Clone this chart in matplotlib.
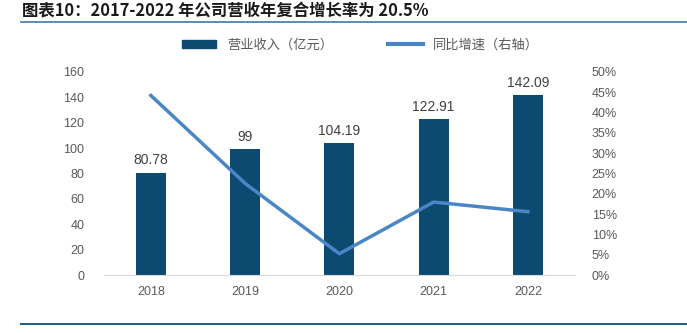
import matplotlib.pyplot as plt
from matplotlib.lines import Line2D
from matplotlib.patches import Patch

plt.rcParams['font.family'] = ['Liberation Sans', 'Noto Sans CJK SC', 'DejaVu Sans']

years = ['2018', '2019', '2020', '2021', '2022']
revenue = [80.78, 99, 104.19, 122.91, 142.09]
growth = [44.2, 22.56, 5.24, 17.97, 15.6]
rev_labels = ['80.78', '99', '104.19', '122.91', '142.09']

bar_color = '#0d4a70'
line_color = '#4a86c6'
tick_color = '#595959'

fig = plt.figure(figsize=(6.87, 3.33), dpi=100)

# title and rules
fig.text(0.032, 0.968, '图表10：2017-2022 年公司营收年复合增长率为 20.5%',
         fontsize=11.8, fontweight='bold', style='italic', color='#1a1a1a',
         family=['Noto Sans CJK SC', 'DejaVu Sans'], va='center')
fig.add_artist(Line2D([0.03, 1.0], [0.935, 0.935], color='#3f79a8', lw=1.2))
fig.add_artist(Line2D([0.03, 1.0], [0.027, 0.027], color='#1f5a85', lw=1.4))

ax = fig.add_axes([0.151, 0.174, 0.686, 0.61])
x = range(len(years))
ax.bar(x, revenue, width=0.32, color=bar_color, zorder=2)
for i, v in enumerate(revenue):
    ax.text(i, v + 4, rev_labels[i], ha='center', va='bottom', fontsize=10, color='#404040')
ax.set_xlim(-0.5, 4.5)
ax.set_ylim(0, 160)
ax.set_yticks(range(0, 161, 20))
ax.set_xticks(list(x))
ax.set_xticklabels(years)
for s in ['top', 'right', 'left']:
    ax.spines[s].set_visible(False)
ax.spines['bottom'].set_color('#d9d9d9')
ax.tick_params(axis='both', length=0, labelsize=9, colors=tick_color, pad=8)
ax.tick_params(axis='y', pad=14)

ax2 = ax.twinx()
ax2.plot(x, growth, color=line_color, lw=2.5, zorder=3)
ax2.set_ylim(0, 50)
ax2.set_yticks(range(0, 51, 5))
ax2.set_yticklabels([f'{t}%' for t in range(0, 51, 5)])
for s in ax2.spines.values():
    s.set_visible(False)
ax2.tick_params(axis='y', length=0, labelsize=9, colors=tick_color, pad=12)

handles = [Patch(color=bar_color), Line2D([0], [0], color=line_color, lw=3)]
fig.legend(handles, ['营业收入（亿元）', '同比增速（右轴）'],
           loc='center', bbox_to_anchor=(0.525, 0.865), ncol=2, frameon=False,
           handlelength=2.6, handleheight=0.55, columnspacing=4.2,
           labelcolor='#595959', prop={'family': ['Noto Sans CJK SC'], 'size': 9.5})

fig.savefig('out.png', dpi=100)
